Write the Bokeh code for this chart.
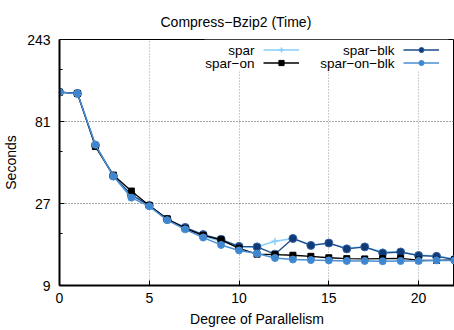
from bokeh.plotting import figure
from bokeh.models import (Range1d, FixedTicker, Legend, LegendItem, Label,
                          BoxAnnotation, ColumnDataSource)
from bokeh.core.properties import value
from bokeh.embed import file_html
from bokeh.resources import INLINE

# ---- data ----
degree = list(range(0, 23))
spar = [120, 118, 59, 39, 30, 26.3, 21.8, 19.3, 17.4, 16.3, 15.1, 15.1, 16.3,
        16.9, 15.5, 15.8, 14.9, 15.0, 14.2, 14.1, 13.5, 13.4, 12.8]
spar_on = [120, 118, 57.9, 39.5, 31.9, 26.3, 22.0, 19.3, 17.6, 16.6, 14.8, 13.7,
           13.6, 13.5, 13.3, 13.05, 12.9, 12.85, 12.9, 12.95, 12.65, 12.6, 12.7]
spar_blk = [120, 118, 59, 39, 30.4, 26.3, 21.8, 19.6, 17.8, 16.7, 15.2, 15.1,
            13.7, 16.9, 15.4, 15.9, 14.7, 15.1, 13.9, 14.1, 13.45, 13.3, 12.75]
spar_on_blk = [120, 118, 59.3, 39, 29.2, 26.0, 21.6, 19.1, 17.1, 15.5, 14.4, 13.8,
               13.0, 12.75, 12.65, 12.6, 12.5, 12.5, 12.45, 12.5, 12.5, 12.6, 12.6]
series_names = ["spar", "spar\u2212on", "spar\u2212blk", "spar\u2212on\u2212blk"]
x_ticks = [0, 5, 10, 15, 20]
y_ticks = [9, 27, 81, 243]
y_minor = [18, 54, 162]

FONT = "Liberation Sans"

p = figure(width=454, height=330, x_range=Range1d(0, 22), y_range=Range1d(9, 243),
           y_axis_type="log", output_backend="svg", toolbar_location=None,
           min_border_left=58, min_border_right=0, min_border_top=39,
           min_border_bottom=45, title="Compress\u2212Bzip2 (Time)")

p.title.align = "left"
p.title.offset = 101
p.title.text_font = FONT
p.title.text_font_size = "14px"
p.title.text_font_style = "normal"
p.title.text_color = "black"
p.title.standoff = 19

p.outline_line_color = "black"
p.outline_line_width = 1
p.background_fill_color = "white"
p.border_fill_color = "white"

# axes
p.xaxis.ticker = FixedTicker(ticks=x_ticks)
p.yaxis.ticker = FixedTicker(ticks=y_ticks, minor_ticks=y_minor)
p.yaxis.major_label_overrides = {t: str(t) for t in y_ticks}
for ax in (p.xaxis, p.yaxis):
    ax.axis_line_width = 2
    ax.axis_line_color = "black"
    ax.major_tick_in = 5
    ax.major_tick_out = 0
    ax.minor_tick_in = 3
    ax.minor_tick_out = 0
    ax.major_tick_line_color = "black"
    ax.minor_tick_line_color = "black"
    ax.major_label_text_font = FONT
    ax.major_label_text_font_size = "14px"
    ax.major_label_text_color = "black"
    ax.axis_label_text_font = FONT
    ax.axis_label_text_font_size = "14px"
    ax.axis_label_text_font_style = "normal"
    ax.axis_label_text_color = "black"
p.xaxis.major_label_standoff = 7
p.xaxis.axis_label_standoff = 5
p.yaxis.major_label_standoff = 9
p.yaxis.axis_label_standoff = 5
p.xaxis.axis_label = "Degree of Parallelism"
p.yaxis.axis_label = "Seconds"

p.xgrid.grid_line_color = "#9a9a9a"
p.ygrid.grid_line_color = "#505050"
p.grid.grid_line_dash = "1 2"
p.grid.grid_line_width = 1

# white key area (covers grid under the key, like the reference)
p.add_layout(BoxAnnotation(left=204, right=448, top=39, bottom=71,
                           left_units="canvas", right_units="canvas",
                           top_units="canvas", bottom_units="canvas",
                           fill_color="white", fill_alpha=1, line_color=None,
                           level="underlay"))

src = ColumnDataSource(dict(x=degree, spar=spar, spar_on=spar_on,
                            spar_blk=spar_blk, spar_on_blk=spar_on_blk))

styles = [
    ("spar", "#87cefa", 1.5, "cross", 7, "#87cefa", "#87cefa"),
    ("spar_blk", "#1a4a8a", 1.3, "circle", 8, "#0e3a78", "#3a64a0"),
    ("spar_on", "black", 1.3, "square", 6, "black", "black"),
    ("spar_on_blk", "#4a8fd4", 1.5, "circle", 7, "#3f86d0", "#4a8fd4"),
]
rends = {}
for col, lc, lw, mk, ms, fc, ec in styles:
    rl = p.line("x", col, source=src, line_color=lc, line_width=lw)
    rm = p.scatter("x", col, source=src, marker=mk, size=ms, fill_color=fc,
                   line_color=ec, line_width=1.5 if mk == "cross" else 1)
    rends[col] = [rl, rm]

def make_legend(keys, xloc):
    items = [LegendItem(label=value(""), renderers=rends[k]) for k in keys]
    return Legend(items=items, location=(xloc, 216), orientation="vertical",
                  glyph_width=36, glyph_height=13, label_width=0, label_height=13,
                  label_standoff=0, spacing=0, padding=0, margin=0,
                  border_line_color=None, background_fill_alpha=0,
                  label_text_font_size="1px")

p.add_layout(make_legend(["spar", "spar_on"], 204))
p.add_layout(make_legend(["spar_blk", "spar_on_blk"], 344))

label_pos = [(195, 235), (195, 222), (335, 235), (335, 222)]
for name, (lx, ly) in zip(series_names, label_pos):
    p.add_layout(Label(x=lx, y=ly, x_units="screen", y_units="screen", text=name,
                       text_align="right", text_baseline="middle",
                       text_font=FONT, text_font_size="13.5px", text_color="black"))

open("out.html", "w").write(file_html(p, INLINE))
